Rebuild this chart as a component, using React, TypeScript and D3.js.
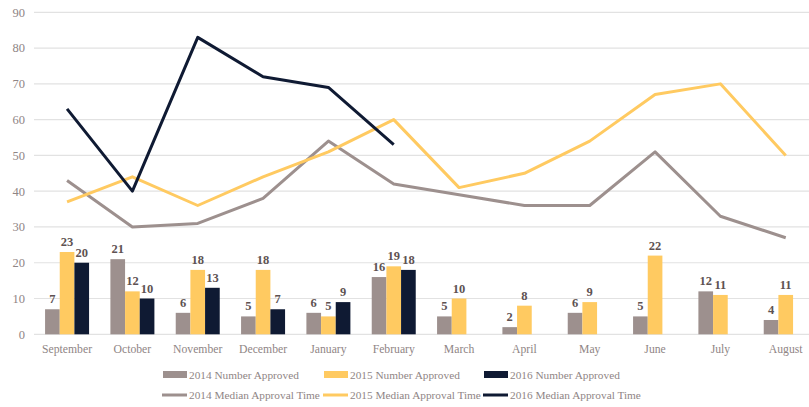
import React, { useRef, useEffect } from 'react';
import * as d3 from 'd3';

const months = ['September', 'October', 'November', 'December', 'January', 'February', 'March', 'April', 'May', 'June', 'July', 'August'];
const yTicks = [0, 10, 20, 30, 40, 50, 60, 70, 80, 90];

const approved2014 = [7, 21, 6, 5, 6, 16, 5, 2, 6, 5, 12, 4];
const approved2015 = [23, 12, 18, 18, 5, 19, 10, 8, 9, 22, 11, 11];
const approved2016 = [20, 10, 13, 7, 9, 18];

const median2014 = [43, 30, 31, 38, 54, 42, 39, 36, 36, 51, 33, 27];
const median2015 = [37, 44, 36, 44, 51, 60, 41, 45, 54, 67, 70, 50];
const median2016 = [63, 40, 83, 72, 69, 53];

const colors = ['#9d908e', '#ffca61', '#0f1a33'];
const font = '"Liberation Serif", "Times New Roman", serif';

const App = () => {
    const svgRef = useRef<SVGSVGElement>(null);

    useEffect(() => {
        const svg = d3.select(svgRef.current);
        svg.selectAll('*').remove();

        const x = d3.scaleBand().domain(months).range([34.4, 818.4]);
        const y = d3.scaleLinear().domain([0, 90]).range([334.3, 12.3]);
        const inner = d3.scaleBand().domain(['0', '1', '2']).range([0, 44]);
        const groupOffset = (x.bandwidth() - 44) / 2;

        // gridlines
        svg.append('g')
            .selectAll('line')
            .data(yTicks)
            .enter()
            .append('line')
            .attr('x1', 34)
            .attr('x2', 809)
            .attr('y1', (d) => y(d))
            .attr('y2', (d) => y(d))
            .attr('stroke', '#e2e2e2')
            .attr('stroke-width', 1.2);

        // y axis labels
        svg.append('g')
            .selectAll('text')
            .data(yTicks)
            .enter()
            .append('text')
            .attr('x', 25)
            .attr('y', (d) => y(d))
            .attr('dy', '0.35em')
            .attr('text-anchor', 'end')
            .attr('font-family', font)
            .attr('font-size', 12.5)
            .attr('fill', '#8f8585')
            .text((d) => d);

        // x axis labels
        svg.append('g')
            .selectAll('text')
            .data(months)
            .enter()
            .append('text')
            .attr('x', (d) => x(d)! + x.bandwidth() / 2)
            .attr('y', 353)
            .attr('text-anchor', 'middle')
            .attr('font-family', font)
            .attr('font-size', 11.7)
            .attr('fill', '#8f8585')
            .text((d) => d);

        const barSeries = [approved2014, approved2015, approved2016];
        barSeries.forEach((vals, si) => {
            const g = svg.append('g');
            const pts = vals.map((v, i) => ({ m: months[i], v }));
            g.selectAll('rect')
                .data(pts)
                .enter()
                .append('rect')
                .attr('x', (d) => x(d.m)! + groupOffset + inner(String(si))!)
                .attr('y', (d) => y(d.v))
                .attr('width', inner.bandwidth())
                .attr('height', (d) => y(0) - y(d.v))
                .attr('fill', colors[si]);
            g.selectAll('text')
                .data(pts)
                .enter()
                .append('text')
                .attr('x', (d) => x(d.m)! + groupOffset + inner(String(si))! + inner.bandwidth() / 2)
                .attr('y', (d) => y(d.v) - 6)
                .attr('text-anchor', 'middle')
                .attr('font-family', font)
                .attr('font-weight', 'bold')
                .attr('font-size', 12.5)
                .attr('fill', '#5e5252')
                .text((d) => d.v);
        });

        const lineSeries = [median2014, median2015, median2016];
        const line = d3.line<number>()
            .x((d, i) => x(months[i])! + x.bandwidth() / 2)
            .y((d) => y(d));
        lineSeries.forEach((vals, si) => {
            svg.append('path')
                .datum(vals)
                .attr('d', line)
                .attr('fill', 'none')
                .attr('stroke', colors[si])
                .attr('stroke-width', 3)
                .attr('stroke-linejoin', 'round');
        });

        // legend
        const legendX = [163, 324, 484];
        const barLabels = ['2014 Number Approved', '2015 Number Approved', '2016 Number Approved'];
        const lineLabels = ['2014 Median Approval Time', '2015 Median Approval Time', '2016 Median Approval Time'];
        const legend = svg.append('g');
        barLabels.forEach((label, i) => {
            legend.append('rect')
                .attr('x', legendX[i])
                .attr('y', 371)
                .attr('width', 24)
                .attr('height', 7)
                .attr('fill', colors[i]);
            legend.append('text')
                .attr('x', legendX[i] + 26)
                .attr('y', 379)
                .attr('font-family', font)
                .attr('font-size', 11.3)
                .attr('fill', '#8f8585')
                .text(label);
        });
        lineLabels.forEach((label, i) => {
            legend.append('line')
                .attr('x1', legendX[i] - 1)
                .attr('x2', legendX[i] + 24)
                .attr('y1', 395)
                .attr('y2', 395)
                .attr('stroke', colors[i])
                .attr('stroke-width', 3);
            legend.append('text')
                .attr('x', legendX[i] + 26)
                .attr('y', 399)
                .attr('font-family', font)
                .attr('font-size', 11.3)
                .attr('fill', '#8f8585')
                .text(label);
        });
    }, []);

    return (
        <svg
            ref={svgRef}
            width={809}
            height={407}
            style={{ position: 'absolute', left: 0, top: 0, background: '#fff' }}
        ></svg>
    );
};

export default App;
